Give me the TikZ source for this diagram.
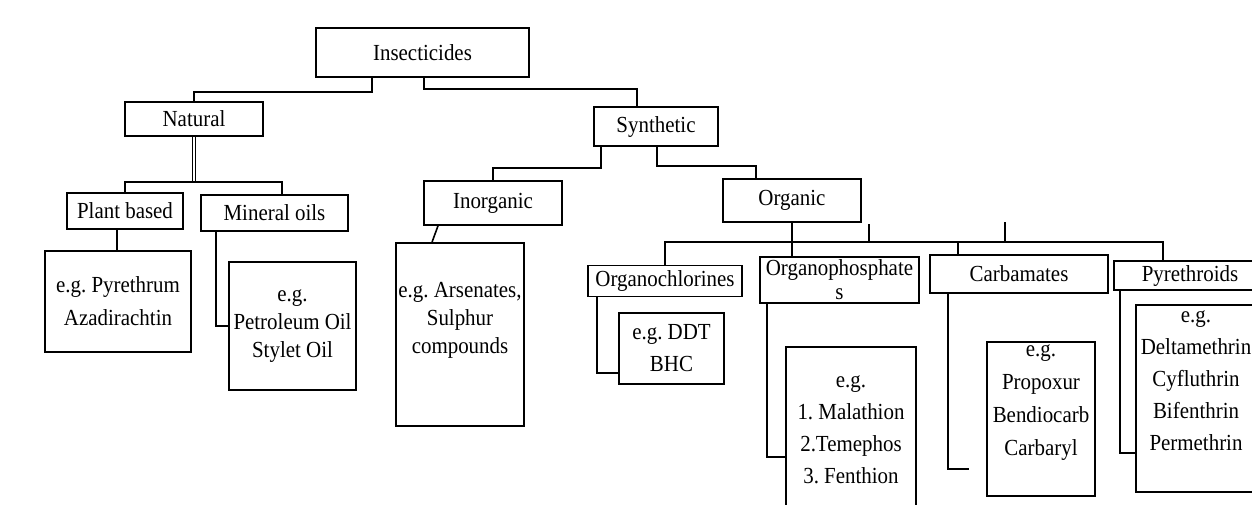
\documentclass[tikz,border=0pt]{standalone}
\usepackage{fontspec}
\setmainfont{Liberation Serif}[FakeStretch=0.91]
\newcommand\fsz{\fontsize{23}{25}\selectfont}
\frenchspacing
\begin{document}
\begin{tikzpicture}[x=1pt,y=-1pt,
  box/.style={draw, line width=1.6pt, inner sep=0pt, align=center, font=\fsz},
  txt/.style={inner sep=0pt, align=center, font=\fsz},
  conn/.style={line width=1.6pt}]
\useasboundingbox (0,0) rectangle (1252,504);
% boxes
\node[box, minimum width=213pt, minimum height=49pt] (ins) at (422.5,52.5) {Insecticides};
\node[box, minimum width=138pt, minimum height=34pt] (nat) at (194,119) {Natural};
\node[box, minimum width=124pt, minimum height=39pt] (syn) at (656,126.5) {Synthetic};
\node[box, minimum width=116pt, minimum height=36pt] (pb) at (125,211) {Plant based};
\node[box, minimum width=147pt, minimum height=36pt] (mo) at (274.5,213) {Mineral oils};
\node[box, minimum width=138pt, minimum height=44pt] (ino) at (493,203) {Inorganic};
\node[box, minimum width=138pt, minimum height=43pt] (org) at (792,200.5) {Organic};
\node[box, minimum width=146pt, minimum height=101pt, font=\fontsize{23}{33}\selectfont] (egpy) at (118,301.5) {e.g. Pyrethrum\\Azadirachtin};
\node[box, minimum width=127pt, minimum height=128pt, font=\fontsize{23}{28}\selectfont] (egpet) at (292.5,326) {e.g.\\Petroleum Oil\\Stylet Oil};
\node[box, minimum width=128pt, minimum height=183pt] (egars) at (460,334.5) {};
\node[txt, font=\fontsize{23}{28}\selectfont] (egarst) at (460,320) {e.g. Arsenates,\\Sulphur\\compounds};
\node[box, minimum width=154pt, minimum height=31pt] (och) at (665,281) {Organochlorines};
\node[box, minimum width=159pt, minimum height=46pt, font=\fontsize{23}{24}\selectfont] (oph) at (839.5,280) {Organophosphate\\s};
\node[box, minimum width=178pt, minimum height=38pt] (carb) at (1019,274) {Carbamates};
\node[box, minimum width=152pt, minimum height=29pt] (pyrd) at (1190,275.5) {Pyrethroids};
\node[box, minimum width=105pt, minimum height=71pt, font=\fontsize{23}{32}\selectfont] (egddt) at (671.5,348.5) {e.g. DDT\\BHC};
\node[box, minimum width=130pt, minimum height=165pt, font=\fontsize{23}{32}\selectfont] (egmal) at (851,429.5) {e.g.\\1. Malathion\\2.Temephos\\3. Fenthion};
\node[box, minimum width=108pt, minimum height=154pt] (egprop) at (1041,419) {};
\node[txt, font=\fontsize{23}{33}\selectfont] (egpropt) at (1041,403) {e.g.\\Propoxur\\Bendiocarb\\Carbaryl};
\node[box, minimum width=120pt, minimum height=187pt] (egdel) at (1196,398.5) {};
\node[txt, font=\fontsize{23}{32}\selectfont] (egdelt) at (1196,381) {e.g.\\Deltamethrin\\Cyfluthrin\\Bifenthrin\\Permethrin};
% connectors
\draw[conn] ([xshift=-50.5pt]ins.south) -- ++(0,14) -| (nat.north);
\draw[conn] ([xshift=1.5pt]ins.south) -- ++(0,11) -| ([xshift=-19pt]syn.north);
\draw[line width=1.4pt, double distance=2pt] (nat.south) -- ++(0,45) coordinate (nb);
\draw[conn] (pb.north) |- (nb) -| ([xshift=7.5pt]mo.north);
\draw[conn] ([xshift=-8pt]pb.south) -- ([xshift=-8pt]pb.south |- egpy.north);
\draw[conn] ([xshift=-58.5pt]mo.south) |- (egpet.west);
\draw[conn] ([xshift=-55pt]syn.south) -- ++(0,21) -| (ino.north);
\draw[conn] ([xshift=1pt]syn.south) -- ++(0,19) -| ([xshift=-36pt]org.north);
\draw[conn] ([xshift=-55pt]ino.south) -- ([xshift=-28pt]egars.north);
\coordinate (ob) at ([yshift=-19pt]org.south);
\draw[conn] (org.south) -- (org.south |- oph.north);
\draw[conn] (och.north) |- (ob) -| ([xshift=-27pt]pyrd.north);
\draw[conn] (ob) -| ([xshift=-61pt]carb.north);
\draw[conn] ([xshift=77pt]ob) -- ++(0,-18);
\draw[conn] ([xshift=213pt]ob) -- ++(0,-20);
\draw[conn] ([xshift=-68pt]och.south) |- ([yshift=-24.5pt]egddt.west);
\draw[conn] ([xshift=-72.5pt]oph.south) |- ([yshift=-27.5pt]egmal.west);
\coordinate (pend) at ([xshift=-17pt,yshift=-50pt]egprop.west);
\draw[conn] ([xshift=-71pt]carb.south) |- (pend);
\draw[conn] ([xshift=-70pt]pyrd.south) |- ([yshift=-54.5pt]egdel.west);
\end{tikzpicture}
\end{document}
